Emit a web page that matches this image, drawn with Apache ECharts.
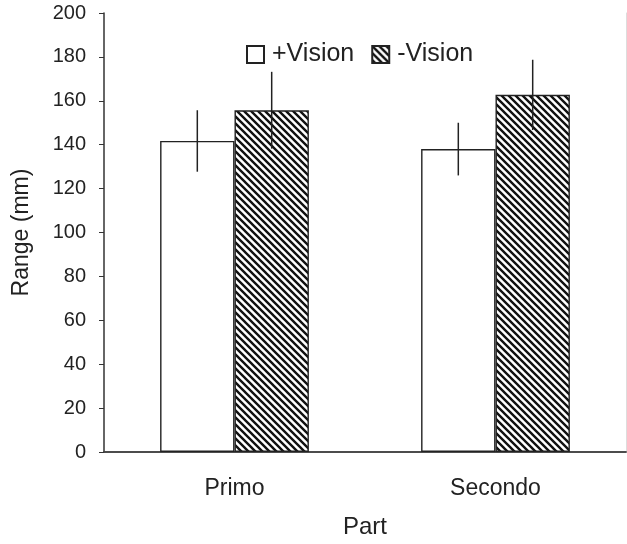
<!DOCTYPE html>
<html>
<head>
<meta charset="utf-8">
<script src="https://cdn.jsdelivr.net/npm/echarts@6/dist/echarts.min.js"></script>
<style>html,body{margin:0;padding:0;background:#fff}#c{width:627px;height:544px}</style>
</head>
<body>
<div id="c"></div>
<script>
const categories = ['Primo', 'Secondo'];
const visionPlus = [141.7, 138.0];
const visionPlusErr = [14.0, 12.0];
const visionMinus = [155.7, 162.7];
const visionMinusErr = [17.5, 16.0];
const yTicks = [0, 20, 40, 60, 80, 100, 120, 140, 160, 180, 200];

const FONT = '"Liberation Sans", Arial, sans-serif';
const CAT_GAP = 0.43;

function makeHatch() {
  const s = 7;
  const cv = document.createElement('canvas');
  cv.width = s; cv.height = s;
  const ctx = cv.getContext('2d');
  ctx.fillStyle = '#fff';
  ctx.fillRect(0, 0, s, s);
  ctx.strokeStyle = '#111';
  ctx.lineWidth = 2.4;
  ctx.beginPath();
  ctx.moveTo(-1, -1); ctx.lineTo(s + 1, s + 1);
  ctx.moveTo(-1 - s, -1); ctx.lineTo(1, s + 1);
  ctx.moveTo(s - 1, -1); ctx.lineTo(2 * s + 1, s + 1);
  ctx.stroke();
  return cv;
}
const hatch = { image: makeHatch(), repeat: 'repeat' };

function errSeries(vals, errs, side) {
  return {
    type: 'custom',
    z: 10,
    silent: true,
    data: vals.map((v, i) => [i, v, errs[i]]),
    renderItem: function (params, api) {
      const i = api.value(0), v = api.value(1), e = api.value(2);
      const bandW = api.size([1, 0])[0];
      const bw = bandW * (1 - CAT_GAP) / 2;
      const c = api.coord([i, v]);
      const x = c[0] + side * bw / 2;
      const top = api.coord([i, v + e])[1];
      const bot = api.coord([i, v - e])[1];
      return {
        type: 'line',
        shape: { x1: x, y1: top, x2: x, y2: bot },
        style: { stroke: '#222', lineWidth: 1.5 }
      };
    }
  };
}

const chart = echarts.init(document.getElementById('c'));
chart.setOption({
  animation: false,
  backgroundColor: '#fff',
  textStyle: { fontFamily: FONT },
  legend: {
    top: 36,
    left: 241,
    itemWidth: 17,
    itemHeight: 17,
    itemGap: 17,
    data: ['+Vision', '-Vision'],
    textStyle: { fontSize: 25, lineHeight: 27, color: '#222', fontFamily: FONT, padding: [0, 0, 0, 3] },
    icon: 'rect'
  },
  grid: { left: 104, right: 1, top: 13, bottom: 92 },
  xAxis: [{
    type: 'category',
    data: categories,
    name: 'Part',
    nameLocation: 'middle',
    nameGap: 63,
    nameTextStyle: { fontSize: 24, color: '#222', fontFamily: FONT },
    axisLine: { lineStyle: { color: '#333', width: 1.5 } },
    axisTick: { show: false },
    axisLabel: { fontSize: 23, color: '#222', margin: 25, fontFamily: FONT }
  }, {
    type: 'category',
    data: categories,
    position: 'top',
    axisLine: { lineStyle: { color: '#444', width: 1.5 } },
    axisTick: { show: false },
    axisLabel: { show: false }
  }],
  yAxis: [{
    type: 'value',
    min: yTicks[0],
    max: yTicks[yTicks.length - 1],
    interval: 20,
    name: 'Range (mm)',
    nameLocation: 'middle',
    nameGap: 71,
    nameTextStyle: { fontSize: 23, color: '#222', fontFamily: FONT },
    axisLine: { show: true, lineStyle: { color: '#333', width: 1.5 } },
    axisTick: { show: true, length: 5, lineStyle: { color: '#333' } },
    axisLabel: { fontSize: 20, color: '#222', margin: 18, fontFamily: FONT },
    splitLine: { show: false }
  }, {
    type: 'value',
    min: yTicks[0],
    max: yTicks[yTicks.length - 1],
    position: 'right',
    axisLine: { show: true, lineStyle: { color: '#ddd', width: 1 } },
    axisTick: { show: false },
    axisLabel: { show: false },
    splitLine: { show: false }
  }],
  series: [{
    name: '+Vision',
    type: 'bar',
    data: visionPlus,
    barGap: '0%',
    barCategoryGap: (CAT_GAP * 100) + '%',
    itemStyle: { color: '#fff', borderColor: '#222', borderWidth: 1.4 }
  }, {
    name: '-Vision',
    type: 'bar',
    data: visionMinus,
    barGap: '0%',
    barCategoryGap: (CAT_GAP * 100) + '%',
    itemStyle: { color: hatch, borderColor: '#222', borderWidth: 1.4 }
  },
  errSeries(visionPlus, visionPlusErr, -1),
  errSeries(visionMinus, visionMinusErr, 1)
  ]
});
</script>
</body>
</html>
